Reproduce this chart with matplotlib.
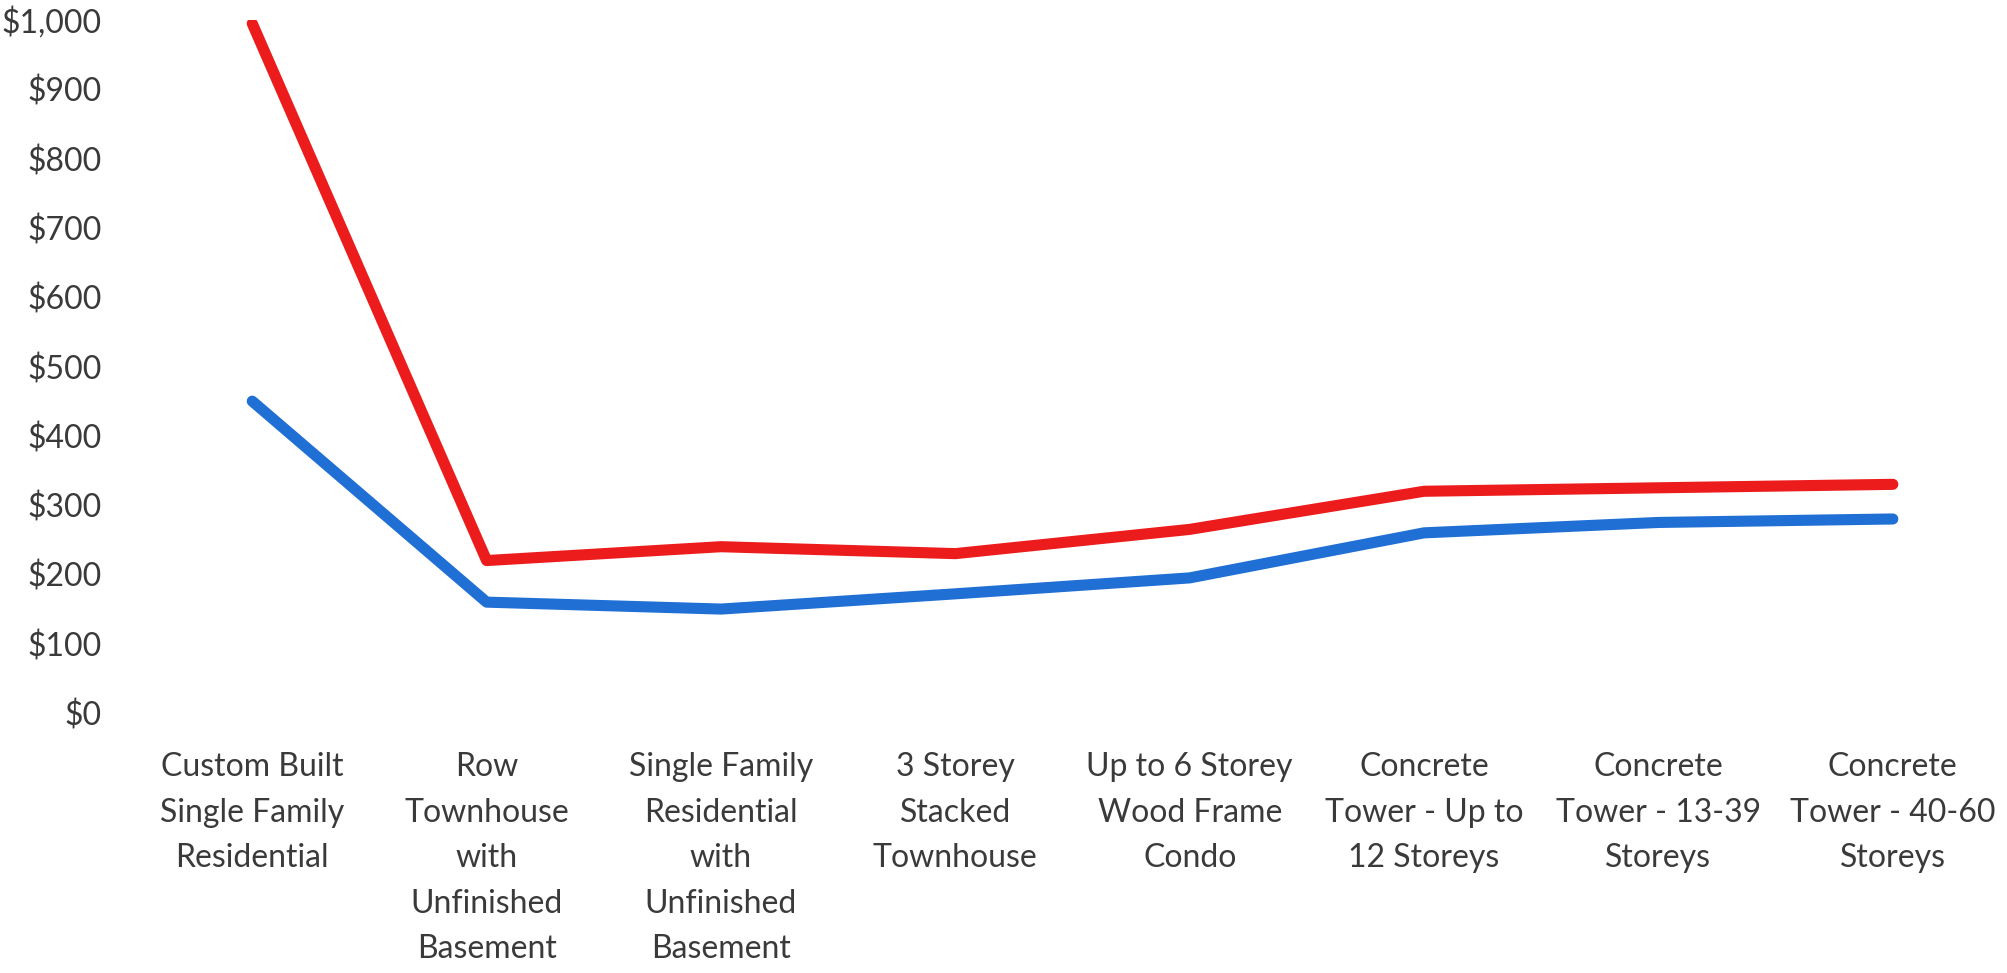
import numpy as np
import matplotlib.pyplot as plt

categories = [
    "Custom Built\nSingle Family\nResidential",
    "Row\nTownhouse\nwith\nUnfinished\nBasement",
    "Single Family\nResidential\nwith\nUnfinished\nBasement",
    "3 Storey\nStacked\nTownhouse",
    "Up to 6 Storey\nWood Frame\nCondo",
    "Concrete\nTower - Up to\n12 Storeys",
    "Concrete\nTower - 13-39\nStoreys",
    "Concrete\nTower - 40-60\nStoreys",
]
high_cost = [995, 220, 240, 230, 265, 320, 325, 330]
low_cost = [450, 160, 150, 172, 195, 260, 275, 280]
y_ticks = [0, 100, 200, 300, 400, 500, 600, 700, 800, 900, 1000]

plt.rcParams['font.family'] = ['Lato', 'DejaVu Sans']
text_color = '#3a3a3a'

fig = plt.figure(figsize=(20.07, 9.73), dpi=100)
ax = fig.add_axes([0.0673, 0.2672, 0.9342, 0.7122])

x = np.arange(len(categories))
ax.plot(x, low_cost, color='#1f6fd4', lw=8, solid_capstyle='round')
ax.plot(x, high_cost, color='#ec1c1c', lw=8, solid_capstyle='round')

ax.set_xlim(-0.5, len(categories) - 0.5)
ax.set_ylim(0, 1000)
ax.set_yticks(y_ticks)
ax.set_yticklabels([f"${v:,}" for v in y_ticks])
ax.set_xticks(x)
ax.set_xticklabels(categories, linespacing=1.65, va='top')

ax.tick_params(axis='y', length=0, pad=24, labelsize=23, labelcolor=text_color)
ax.tick_params(axis='x', length=0, pad=28, labelsize=23, labelcolor=text_color)
for s in ax.spines.values():
    s.set_visible(False)

fig.savefig('out.png', dpi=100)
